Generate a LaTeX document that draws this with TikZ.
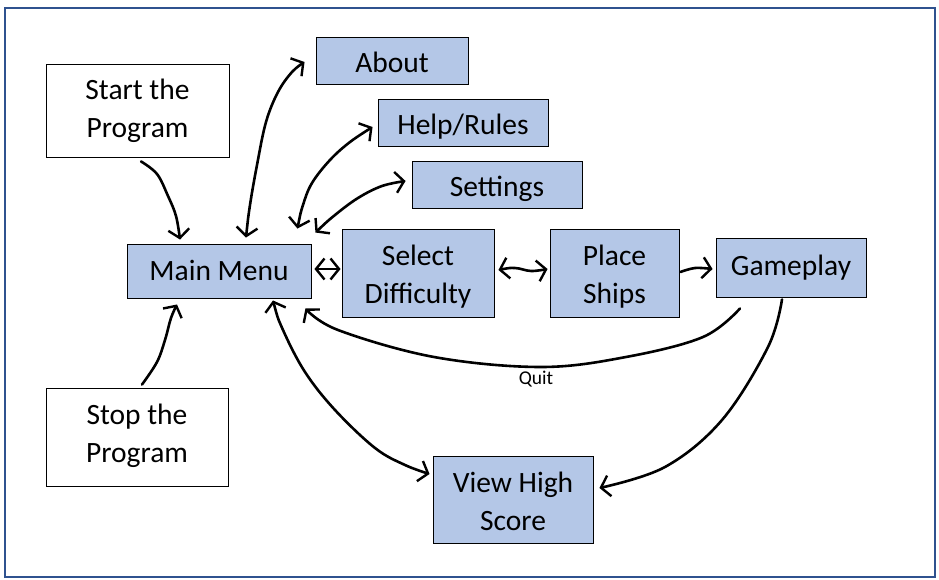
\documentclass[tikz,border=0pt]{standalone}
\usepackage{fontspec}
\setmainfont{Carlito}
\usetikzlibrary{arrows.meta}
\definecolor{boxfill}{HTML}{B4C7E7}
\definecolor{frameblue}{HTML}{2F528F}
\newcommand{\bt}[2]{\raisebox{#1}[0pt][0pt]{\vtop{\halign{\hfil##\hfil\cr#2\crcr}}}}
\begin{document}
\begin{tikzpicture}[x=1pt,y=-1pt,
  box/.style={draw=black,line width=0.9pt,fill=boxfill,inner sep=0pt,
    font=\fontsize{29.5}{38}\selectfont},
  wbox/.style={box,fill=white},
  tip/.tip={Straight Barb[length=8.5pt,width=21pt,line width=2.4pt]},
  arr/.style={line width=2.6pt,line cap=round,line join=round,-tip},
  darr/.style={line width=2.6pt,line cap=round,line join=round,tip-tip},
  lbl/.style={font=\fontsize{19.5}{22}\selectfont,inner sep=0pt}
]
\useasboundingbox (0,0) rectangle (939,580);
\draw[frameblue,line width=2pt] (5,8) rectangle (935,577);

\node[wbox,minimum width=183pt,minimum height=93pt] (start) at (137.5,110.5) {\bt{10.5pt}{Start the\cr Program}};
\node[wbox,minimum width=182pt,minimum height=98pt,font=\fontsize{29.5}{38.5}\selectfont] (stop) at (137,437) {\bt{13pt}{Stop the\cr Program}};
\node[box,minimum width=152pt,minimum height=47pt] (about) at (392,60.5) {\bt{-12pt}{About}};
\node[box,minimum width=170pt,minimum height=47pt] (help) at (463,122.5) {\bt{-12.5pt}{Help/Rules}};
\node[box,minimum width=170pt,minimum height=47pt] (settings) at (497,184.5) {\bt{-12pt}{Settings}};
\node[box,minimum width=184pt,minimum height=54pt] (main) at (219,271) {\bt{-9.5pt}{Main Menu}};
\node[box,minimum width=152pt,minimum height=88pt] (select) at (418,273) {\bt{8pt}{Select\cr Difficulty}};
\node[box,minimum width=129pt,minimum height=88pt] (place) at (614.5,273) {\bt{8pt}{Place\cr Ships}};
\node[box,minimum width=150pt,minimum height=59pt] (game) at (791,267.5) {\bt{-7.5pt}{Gameplay}};
\node[box,minimum width=160pt,minimum height=87pt] (view) at (513,499.5) {\bt{7pt}{View High\cr Score}};

% Start -> Main
\draw[arr] plot[smooth,tension=0.6] coordinates {([shift={(3.5,4)}]start.south) (157,174) (168,196) (176,216) ([shift={(-39,-4)}]main.north)};
% Stop -> Main
\draw[arr] plot[smooth,tension=0.6] coordinates {([shift={(5,-3)}]stop.north) (157,362) (165,340) (171,318) ([shift={(-42,6)}]main.south)};
% About <-> Main
\draw[darr] plot[smooth,tension=0.6] coordinates {([shift={(27,-6)}]main.north) (250,205) (257,165) (266,122) (278,92) (292,72) ([shift={(-11,1.5)}]about.west)};
% Help <-> Main
\draw[darr] plot[smooth,tension=0.6] coordinates {([shift={(-14,-15)}]main.north east) (303,205) (312,183) (330,160) (350,142) ([shift={(-5,4.5)}]help.west)};
% Settings <-> Main
\draw[darr] plot[smooth,tension=0.6] coordinates {([shift={(4,-11)}]main.north east) (335,215) (358,198) (382,186) ([shift={(-6,-3.5)}]settings.west)};
% Main <-> Select
\draw[darr] ([shift={(3,-2)}]main.east) -- ([shift={(-1,-4)}]select.west);
% Select <-> Place
\draw[darr] plot[smooth,tension=0.6] coordinates {([shift={(4,-3)}]select.east) (515,268) (531,271) ([shift={(-2,-4)}]place.west)};
% Place -> Gameplay
\draw[arr] plot[smooth,tension=0.6] coordinates {([shift={(1,-1)}]place.east) (695,268) ([shift={(-3,1.5)}]game.west)};
% Gameplay -> Main (Quit)
\draw[arr] plot[smooth,tension=0.6] coordinates {([shift={(-51,11)}]game.south) (703,337) (626,357) (541,367) (434,357) (338,330) ([shift={(-6,10)}]main.south east)};
\node[lbl] (quit) at (536,379) {Quit};
% Gameplay -> View
\draw[arr] plot[smooth,tension=0.6] coordinates {([shift={(-9,2)}]game.south) (768,347) (722,420) (665,467) ([shift={(6,-11.5)}]view.east)};
% Main <-> View
\draw[darr] plot[smooth,tension=0.6] coordinates {([shift={(54,2)}]main.south) (283,330) (305,372) (335,410) (375,448) (405,465) ([shift={(-3,-25.5)}]view.west)};
\end{tikzpicture}
\end{document}
